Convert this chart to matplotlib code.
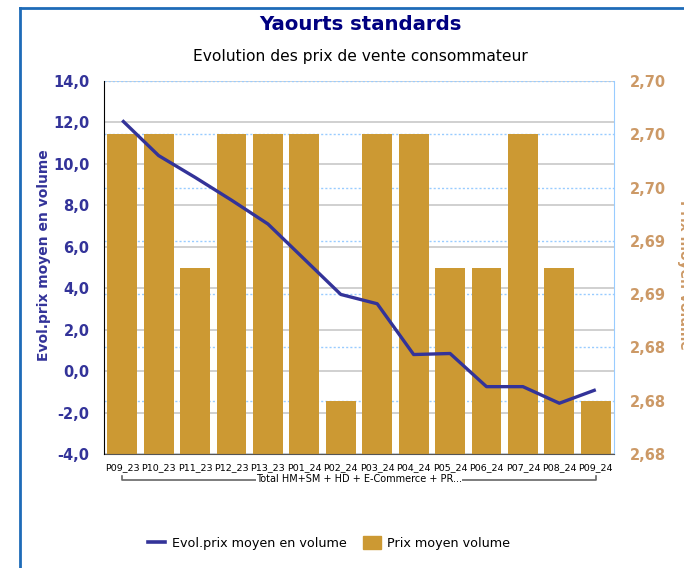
import numpy as np
import matplotlib
matplotlib.use('Agg')
import matplotlib.pyplot as plt
from matplotlib.ticker import FuncFormatter, MultipleLocator
import matplotlib.transforms as mtransforms

# ------------------------ Data ------------------------
periods = ["P09_23", "P10_23", "P11_23", "P12_23", "P13_23", "P01_24", "P02_24",
           "P03_24", "P04_24", "P05_24", "P06_24", "P07_24", "P08_24", "P09_24"]
prix_moyen = [2.70, 2.70, 2.69, 2.70, 2.70, 2.70, 2.68,
              2.70, 2.70, 2.69, 2.69, 2.70, 2.69, 2.68]
evol_prix = [12.1, 10.4, 9.35, 8.25, 7.1, 5.4, 3.7,
             3.25, 0.8, 0.85, -0.75, -0.75, -1.55, -0.9]
group_label = "Total HM+SM + HD + E-Commerce + PR..."

# colours
c_bar = "#CC9933"
c_line = "#333399"
c_right = "#CC9966"
c_title = "#000080"

fig = plt.figure(figsize=(6.84, 5.68), dpi=100)
pos = [104/684, 1-454/568, 510/684, 373/568]

# frame around the chart
fig.add_artist(plt.Line2D([20/684, 20/684], [0, 1-8/568], color="#1E6BB8", lw=2.0))
fig.add_artist(plt.Line2D([20/684, 1], [1-8/568, 1-8/568], color="#1E6BB8", lw=2.0))

x = np.arange(len(periods))

# background axes: solid grid on the left scale
ax_grid = fig.add_axes(pos, zorder=0)
ax_grid.set_ylim(-4, 14)
ax_grid.set_xlim(-0.5, len(periods)-0.5)
ax_grid.yaxis.set_major_locator(MultipleLocator(2))
ax_grid.grid(axis="y", color="#C8C8C8", lw=1.2)
ax_grid.set_xticks([])
ax_grid.tick_params(left=False, labelleft=False)
for s in ax_grid.spines.values():
    s.set_visible(False)

# bars on the right scale
ax_bar = fig.add_axes(pos, zorder=1)
ax_bar.patch.set_visible(False)
ax_bar.bar(x, prix_moyen, width=0.82, color=c_bar, bottom=0)
ax_bar.set_ylim(2.676, 2.704)
ax_bar.set_xlim(-0.5, len(periods)-0.5)
ax_bar.yaxis.set_major_locator(MultipleLocator(0.004))
ax_bar.yaxis.tick_right()
ax_bar.yaxis.set_major_formatter(FuncFormatter(lambda v, p: f"{v:.2f}".replace(".", ",")))
ax_bar.tick_params(axis="y", right=False, pad=8, labelsize=10.5, labelcolor=c_right)
for lab in ax_bar.get_yticklabels():
    lab.set_fontweight("bold")
ax_bar.set_axisbelow(True)
ax_bar.grid(axis="y", color="#99CCFF", lw=1, linestyle=(0, (1.5, 1.5)))
ax_bar.set_xticks(x)
ax_bar.set_xticklabels(periods, fontsize=6.8)
ax_bar.tick_params(axis="x", bottom=False, pad=3)
ax_bar.spines["top"].set_visible(False)
ax_bar.spines["left"].set_visible(False)
ax_bar.spines["right"].set_color("#99CCFF")
ax_bar.spines["bottom"].set_color("#555555")

# line on the left scale
ax_line = fig.add_axes(pos, zorder=2)
ax_line.patch.set_visible(False)
ax_line.plot(x, evol_prix, color=c_line, lw=2.4, solid_capstyle="butt")
ax_line.set_ylim(-4, 14)
ax_line.set_xlim(-0.5, len(periods)-0.5)
ax_line.yaxis.set_major_locator(MultipleLocator(2))
ax_line.yaxis.set_major_formatter(FuncFormatter(lambda v, p: f"{v:.1f}".replace(".", ",")))
ax_line.tick_params(axis="y", left=False, pad=7, labelsize=10.5, labelcolor=c_line)
for lab in ax_line.get_yticklabels():
    lab.set_fontweight("bold")
ax_line.set_xticks([])
for side in ["top", "right", "bottom"]:
    ax_line.spines[side].set_visible(False)
ax_line.spines["left"].set_color("black")

# group bracket under the categories
trans = mtransforms.blended_transform_factory(ax_bar.transData, ax_bar.transAxes)
yb = -0.071
ax_bar.plot([x[0], x[0], x[-1], x[-1]], [yb+0.013, yb, yb, yb+0.013], transform=trans,
            color="#666666", lw=1.2, clip_on=False)
ax_bar.text((x[0]+x[-1])/2, yb+0.003, group_label, transform=trans, ha="center", va="center",
            fontsize=7.0, clip_on=False,
            bbox=dict(facecolor="white", edgecolor="none", pad=0.2))

# titles
fig.text(0.527, 1-24/568, "Yaourts standards", ha="center", va="center",
         fontsize=14.2, fontweight="bold", color=c_title)
fig.text(0.527, 1-56/568, "Evolution des prix de vente consommateur", ha="center", va="center",
         fontsize=11.2, color="black")

# axis titles
fig.text(44/684, 1-255/568, "Evol.prix moyen en volume", rotation=90, ha="center", va="center",
         fontsize=10, fontweight="bold", color=c_line)
fig.text(1.0, 1-275/568, "Prix moyen volume", rotation=270, ha="center", va="center",
         fontsize=10, fontweight="bold", color=c_right)

# legend
h_line = plt.Line2D([], [], color=c_line, lw=2.6)
h_bar = plt.Rectangle((0, 0), 1, 1, color=c_bar)
fig.legend([h_line, h_bar], ["Evol.prix moyen en volume", "Prix moyen volume"],
           loc="center", bbox_to_anchor=(0.481, 1-543/568), ncol=2, frameon=False,
           fontsize=9.2, handlelength=1.4, handleheight=1.2, columnspacing=1.3, handletextpad=0.5)

plt.savefig("out.png", dpi=100)
